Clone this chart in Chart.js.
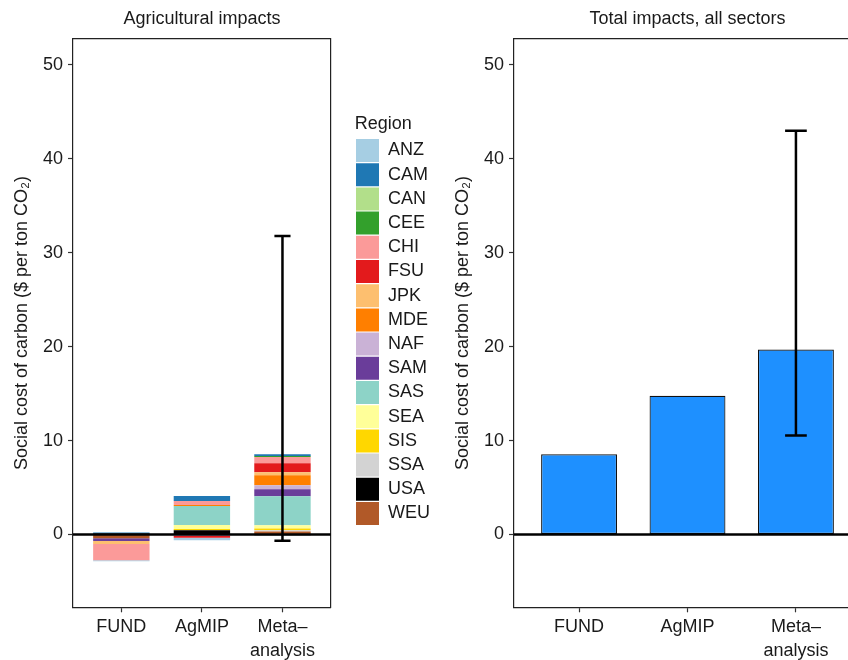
<!DOCTYPE html>
<html>
<head>
<meta charset="utf-8">
<script src="https://cdn.jsdelivr.net/npm/chart.js@4.4.1/dist/chart.umd.min.js"></script>
<style>
  html, body { margin: 0; padding: 0; background: #fff; overflow: hidden; width: 848px; height: 660px; }
  #agri { position: absolute; left: 0; top: 0; }
  #total { position: absolute; left: 440px; top: 0; }
</style>
</head>
<body>
<canvas id="agri" width="440" height="660"></canvas>
<canvas id="total" width="421" height="660"></canvas>
<script>
const models = ["FUND", "AgMIP", ["Meta\u2013", "analysis"]];
const yTicks = [0, 10, 20, 30, 40, 50];

const regions = ["ANZ", "CAM", "CAN", "CEE", "CHI", "FSU", "JPK", "MDE",
                 "NAF", "SAM", "SAS", "SEA", "SIS", "SSA", "USA", "WEU"];
const regionColors = ["#A6CEE3", "#1F78B4", "#B2DF8A", "#33A02C", "#FB9A99", "#E31A1C", "#FDBF6F", "#FF7F00",
                      "#CAB2D6", "#6A3D9A", "#8DD3C7", "#FFFF99", "#FFD700", "#D3D3D3", "#000000", "#B15928"];

// agricultural SCC by region, [FUND, AgMIP, Meta-analysis]
const ANZ = [-0.12, -0.25, 0];
const CAM = [0.1, 0.53, 0.18];
const CAN = [0, 0, 0];
const CEE = [0, 0, 0.1];
const CHI = [-1.73, 0.43, 0.67];
const FSU = [0, -0.2, 0.96];
const JPK = [-0.3, 0, 0.32];
const MDE = [0, 0.1, 1.06];
const NAF = [0, -0.15, 0.43];
const SAM = [-0.3, 0, 0.75];
const SAS = [0, 2.02, 3.08];
const SEA = [0, 0.43, 0.35];
const SIS = [0, 0.14, 0.18];
const SSA = [0, 0, 0.14];
const USA = [0.12, 0.45, -0.08];
const WEU = [-0.4, 0, 0.32];
const regionSeries = [ANZ, CAM, CAN, CEE, CHI, FSU, JPK, MDE, NAF, SAM, SAS, SEA, SIS, SSA, USA, WEU];

const agriErrLow = [null, null, -0.67];
const agriErrHigh = [null, null, 31.8];

// total impacts, all sectors
const totals = [8.55, 14.77, 19.7];
const totalErrLow = [null, null, 10.55];
const totalErrHigh = [null, null, 43.0];

Chart.defaults.font.family = '"Liberation Sans", Arial, Helvetica, sans-serif';
Chart.defaults.color = "#1a1a1a";

// zero line + error bars on top of the bars
const overlay = {
  id: "overlay",
  afterDatasetsDraw(chart, args, opts) {
    const { ctx, chartArea: a } = chart;
    const x = chart.scales.x, y = chart.scales.y;
    ctx.save();
    ctx.strokeStyle = "#000";
    ctx.lineWidth = 2.5;
    const y0 = y.getPixelForValue(0);
    ctx.beginPath();
    ctx.moveTo(a.left, y0);
    ctx.lineTo(a.right, y0);
    ctx.stroke();
    opts.low.forEach((lo, i) => {
      const hi = opts.high[i];
      if (lo == null) return;
      const xc = x.getPixelForValue(i + 1);
      const w = x.getPixelForValue(i + 1.1) - xc;
      const yl = y.getPixelForValue(lo), yh = y.getPixelForValue(hi);
      ctx.beginPath();
      ctx.moveTo(xc, yl); ctx.lineTo(xc, yh);
      ctx.moveTo(xc - w, yl); ctx.lineTo(xc + w, yl);
      ctx.moveTo(xc - w, yh); ctx.lineTo(xc + w, yh);
      ctx.stroke();
    });
    ctx.restore();
  }
};

function makeScales(title, yWidth, yTitlePad, withRight) {
  const tickGrid = { drawOnChartArea: false, offset: false, tickLength: 5, tickColor: "#333", tickWidth: 1.2 };
  const border = { color: "#222", width: 1.2 };
  const s = {
    x: {
      type: "linear", min: 0.4, max: 3.6, stacked: true, offset: false,
      afterBuildTicks: sc => { sc.ticks = models.map((_, i) => ({ value: i + 1 })); },
      ticks: { callback: v => models[v - 1], font: { size: 18, lineHeight: 1.333 }, padding: 2.4, maxRotation: 0, autoSkip: false },
      grid: tickGrid, border: border,
      afterFit: sc => { sc.height = 52.7; }
    },
    x2: {
      type: "linear", position: "top", min: 0.4, max: 3.6, offset: false,
      ticks: { display: false }, grid: { display: false, offset: false }, border: border,
      title: { display: true, text: title, font: { size: 18 }, padding: { top: 8.2, bottom: 0 } },
      afterFit: sc => { sc.height = 38.7; }
    },
    y: {
      min: -7.75, max: 52.8, stacked: true,
      afterBuildTicks: sc => { sc.ticks = yTicks.map(v => ({ value: v })); },
      ticks: { font: { size: 18 }, padding: 5 },
      grid: tickGrid, border: border,
      title: { display: true, text: "Social cost of carbon ($ per ton CO\u2082)", font: { size: 18 }, padding: { top: yTitlePad, bottom: 0 } },
      afterFit: sc => { sc.width = yWidth; }
    }
  };
  if (withRight) {
    s.y2 = {
      position: "right", ticks: { display: false }, grid: { display: false }, border: border,
      afterFit: sc => { sc.width = 24; }
    };
  }
  return s;
}

const stackOrder = regions.map((_, i) => i).reverse();

new Chart(document.getElementById("agri"), {
  type: "bar",
  data: {
    datasets: stackOrder.map(i => ({
      label: regions[i],
      data: regionSeries[i].map((v, k) => ({ x: k + 1, y: v })),
      backgroundColor: regionColors[i],
      borderWidth: 0,
      barPercentage: 0.7,
      categoryPercentage: 1
    }))
  },
  options: {
    responsive: false,
    animation: false,
    layout: { padding: 0 },
    scales: makeScales("Agricultural impacts", 73, 11.2, true),
    plugins: {
      tooltip: { enabled: false },
      legend: {
        display: true, position: "right", align: "start", reverse: true, maxWidth: 120,
        title: { display: true, text: "Region", font: { size: 18 }, position: "start", padding: { top: 115.3, bottom: 0.9 } },
        labels: { boxWidth: 23, boxHeight: 23, padding: 1.2, font: { size: 18 } }
      },
      overlay: { low: agriErrLow, high: agriErrHigh }
    }
  },
  plugins: [overlay]
});

new Chart(document.getElementById("total"), {
  type: "bar",
  data: {
    datasets: [{
      label: "Total",
      data: totals.map((v, k) => ({ x: k + 1, y: v })),
      backgroundColor: "#1E90FF",
      borderColor: "#111",
      borderWidth: 1.2,
      borderSkipped: false,
      barPercentage: 0.7,
      categoryPercentage: 1
    }]
  },
  options: {
    responsive: false,
    animation: false,
    layout: { padding: 0 },
    scales: makeScales("Total impacts, all sectors", 74, 12.2, false),
    plugins: {
      tooltip: { enabled: false },
      legend: { display: false },
      overlay: { low: totalErrLow, high: totalErrHigh }
    }
  },
  plugins: [overlay]
});
</script>
</body>
</html>
